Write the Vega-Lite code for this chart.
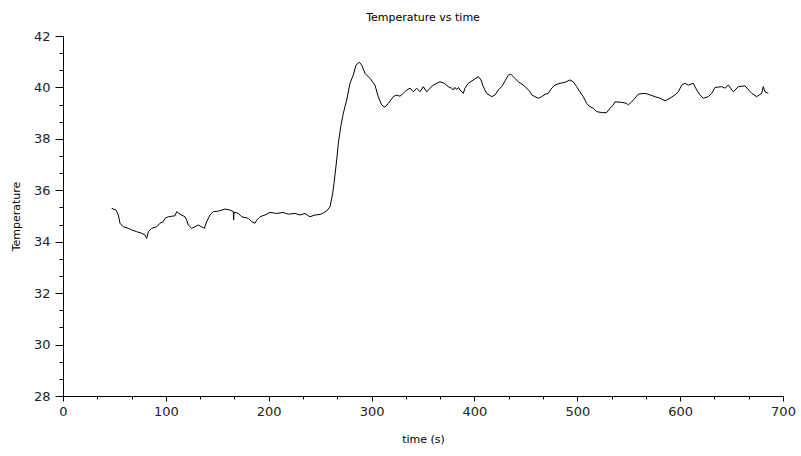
{
  "$schema": "https://vega.github.io/schema/vega-lite/v6.json",
  "width": 720,
  "height": 360,
  "autosize": {"type": "none"},
  "padding": {"left": 63, "top": 36, "right": 18, "bottom": 60},
  "background": "white",
  "title": {"text": "Temperature vs time", "fontSize": 11, "font": "DejaVu Sans", "fontWeight": "normal", "color": "#000", "anchor": "middle", "offset": 7},
  "config": {
    "view": {"stroke": null},
    "axis": {"grid": false, "domainColor": "#000", "tickColor": "#000", "labelColor": "#222", "titleColor": "#000", "labelFont": "DejaVu Sans", "titleFont": "DejaVu Sans", "labelFontSize": 13, "titleFontSize": 11, "titleFontWeight": "normal", "domainWidth": 1, "tickWidth": 1}
  },
  "data": {"values": [
    {"t": 47.3, "temp": 35.30}, {"t": 51.5, "temp": 35.23}, {"t": 53.8, "temp": 35.04}, {"t": 55.4, "temp": 34.72},
    {"t": 58.6, "temp": 34.58}, {"t": 63.5, "temp": 34.52}, {"t": 66.8, "temp": 34.46}, {"t": 71.6, "temp": 34.39},
    {"t": 76.5, "temp": 34.33}, {"t": 79.7, "temp": 34.26}, {"t": 81.4, "temp": 34.13}, {"t": 83.0, "temp": 34.39},
    {"t": 86.2, "temp": 34.52}, {"t": 91.1, "temp": 34.58}, {"t": 94.3, "temp": 34.72}, {"t": 97.5, "temp": 34.78},
    {"t": 99.2, "temp": 34.91}, {"t": 102.4, "temp": 34.97}, {"t": 108.9, "temp": 35.01}, {"t": 110.5, "temp": 35.17},
    {"t": 113.7, "temp": 35.07}, {"t": 118.6, "temp": 34.97}, {"t": 120.3, "temp": 34.84}, {"t": 121.8, "temp": 34.65},
    {"t": 125.1, "temp": 34.52}, {"t": 128.3, "temp": 34.58}, {"t": 131.5, "temp": 34.65}, {"t": 134.8, "temp": 34.58},
    {"t": 137.4, "temp": 34.52}, {"t": 139.7, "temp": 34.78}, {"t": 142.9, "temp": 35.04}, {"t": 146.1, "temp": 35.17},
    {"t": 151.0, "temp": 35.19}, {"t": 157.5, "temp": 35.27}, {"t": 162.4, "temp": 35.23}, {"t": 165.6, "temp": 35.17},
    {"t": 165.9, "temp": 34.84}, {"t": 166.3, "temp": 35.15}, {"t": 170.4, "temp": 35.10}, {"t": 173.7, "temp": 34.97},
    {"t": 180.2, "temp": 34.91}, {"t": 183.5, "temp": 34.78}, {"t": 186.7, "temp": 34.72}, {"t": 188.3, "temp": 34.84},
    {"t": 191.5, "temp": 34.97}, {"t": 196.4, "temp": 35.04}, {"t": 201.2, "temp": 35.14}, {"t": 207.8, "temp": 35.10},
    {"t": 214.2, "temp": 35.14}, {"t": 219.0, "temp": 35.07}, {"t": 225.6, "temp": 35.10}, {"t": 230.4, "temp": 35.04},
    {"t": 235.3, "temp": 35.10}, {"t": 240.1, "temp": 34.97}, {"t": 245.0, "temp": 35.04}, {"t": 249.9, "temp": 35.06},
    {"t": 253.1, "temp": 35.12}, {"t": 256.4, "temp": 35.20}, {"t": 259.6, "temp": 35.36}, {"t": 262.2, "temp": 35.88},
    {"t": 263.5, "temp": 36.27}, {"t": 266.1, "temp": 37.18}, {"t": 267.7, "temp": 37.83}, {"t": 270.0, "temp": 38.47},
    {"t": 272.5, "temp": 38.99}, {"t": 275.8, "temp": 39.51}, {"t": 279.0, "temp": 40.16}, {"t": 282.2, "temp": 40.48},
    {"t": 284.9, "temp": 40.87}, {"t": 288.1, "temp": 40.98}, {"t": 290.4, "temp": 40.87}, {"t": 293.6, "temp": 40.55},
    {"t": 298.5, "temp": 40.35}, {"t": 303.3, "temp": 40.09}, {"t": 306.5, "temp": 39.64}, {"t": 309.8, "temp": 39.32},
    {"t": 313.0, "temp": 39.23}, {"t": 316.3, "temp": 39.38}, {"t": 321.1, "temp": 39.64}, {"t": 324.0, "temp": 39.70},
    {"t": 327.6, "temp": 39.66}, {"t": 330.9, "temp": 39.77}, {"t": 334.1, "temp": 39.90}, {"t": 337.4, "temp": 39.97},
    {"t": 340.6, "temp": 39.83}, {"t": 343.9, "temp": 39.97}, {"t": 347.1, "temp": 39.83}, {"t": 350.3, "temp": 40.03},
    {"t": 353.6, "temp": 39.83}, {"t": 356.8, "temp": 39.97}, {"t": 360.0, "temp": 40.09}, {"t": 363.3, "temp": 40.16},
    {"t": 366.5, "temp": 40.22}, {"t": 370.7, "temp": 40.16}, {"t": 374.6, "temp": 40.03}, {"t": 377.9, "temp": 39.97},
    {"t": 379.5, "temp": 39.90}, {"t": 381.0, "temp": 40.00}, {"t": 382.8, "temp": 39.92}, {"t": 384.5, "temp": 40.00},
    {"t": 386.0, "temp": 39.90}, {"t": 389.2, "temp": 39.77}, {"t": 390.8, "temp": 39.97}, {"t": 394.0, "temp": 40.16},
    {"t": 398.9, "temp": 40.29}, {"t": 403.8, "temp": 40.42}, {"t": 406.4, "temp": 40.29}, {"t": 408.6, "temp": 40.03},
    {"t": 411.9, "temp": 39.77}, {"t": 416.8, "temp": 39.64}, {"t": 420.0, "temp": 39.71}, {"t": 423.2, "temp": 39.90},
    {"t": 426.5, "temp": 40.03}, {"t": 429.7, "temp": 40.25}, {"t": 433.0, "temp": 40.48}, {"t": 435.6, "temp": 40.51},
    {"t": 439.4, "temp": 40.35}, {"t": 442.7, "temp": 40.22}, {"t": 447.5, "temp": 40.09}, {"t": 450.8, "temp": 39.97},
    {"t": 454.0, "temp": 39.83}, {"t": 455.7, "temp": 39.71}, {"t": 458.9, "temp": 39.64}, {"t": 462.1, "temp": 39.58},
    {"t": 465.4, "temp": 39.64}, {"t": 468.6, "temp": 39.73}, {"t": 471.8, "temp": 39.77}, {"t": 475.1, "temp": 39.97},
    {"t": 478.3, "temp": 40.09}, {"t": 483.2, "temp": 40.16}, {"t": 488.0, "temp": 40.20}, {"t": 492.9, "temp": 40.29},
    {"t": 496.1, "temp": 40.22}, {"t": 499.4, "temp": 40.03}, {"t": 502.6, "temp": 39.83}, {"t": 505.8, "temp": 39.64},
    {"t": 509.1, "temp": 39.38}, {"t": 512.3, "temp": 39.25}, {"t": 515.6, "temp": 39.19}, {"t": 518.8, "temp": 39.06},
    {"t": 523.7, "temp": 39.02}, {"t": 528.5, "temp": 39.02}, {"t": 531.8, "temp": 39.19}, {"t": 535.0, "temp": 39.32},
    {"t": 536.7, "temp": 39.44}, {"t": 543.2, "temp": 39.42}, {"t": 548.0, "temp": 39.38}, {"t": 549.6, "temp": 39.32},
    {"t": 552.9, "temp": 39.44}, {"t": 556.1, "temp": 39.58}, {"t": 559.3, "temp": 39.74}, {"t": 565.8, "temp": 39.77},
    {"t": 570.7, "temp": 39.71}, {"t": 575.5, "temp": 39.64}, {"t": 580.4, "temp": 39.58}, {"t": 585.3, "temp": 39.48},
    {"t": 590.1, "temp": 39.58}, {"t": 595.0, "temp": 39.71}, {"t": 598.2, "temp": 39.83}, {"t": 601.5, "temp": 40.09},
    {"t": 604.7, "temp": 40.16}, {"t": 607.9, "temp": 40.09}, {"t": 612.8, "temp": 40.16}, {"t": 616.1, "temp": 39.90},
    {"t": 619.3, "temp": 39.71}, {"t": 622.5, "temp": 39.58}, {"t": 627.4, "temp": 39.64}, {"t": 630.7, "temp": 39.77},
    {"t": 633.9, "temp": 40.00}, {"t": 640.4, "temp": 40.03}, {"t": 643.6, "temp": 39.97}, {"t": 646.8, "temp": 40.09},
    {"t": 651.7, "temp": 39.83}, {"t": 656.5, "temp": 40.03}, {"t": 663.0, "temp": 40.06}, {"t": 669.6, "temp": 39.77},
    {"t": 674.4, "temp": 39.64}, {"t": 679.3, "temp": 39.77}, {"t": 680.8, "temp": 40.03}, {"t": 682.5, "temp": 39.83},
    {"t": 685.7, "temp": 39.77}
  ]},
  "layer": [
    {
      "mark": {"type": "line", "opacity": 0},
      "encoding": {
        "x": {"field": "t", "type": "quantitative", "scale": {"domain": [0, 700], "nice": false, "zero": false},
              "axis": {"orient": "bottom", "values": [33.333, 66.667, 133.333, 166.667, 233.333, 266.667, 333.333, 366.667, 433.333, 466.667, 533.333, 566.667, 633.333, 666.667], "labels": false, "domain": false, "tickSize": 3, "title": null}},
        "y": {"field": "temp", "type": "quantitative", "scale": {"domain": [28, 42], "nice": false, "zero": false},
              "axis": {"orient": "left", "values": [28.667, 29.333, 30.667, 31.333, 32.667, 33.333, 34.667, 35.333, 36.667, 37.333, 38.667, 39.333, 40.667, 41.333], "labels": false, "domain": false, "tickSize": 4, "title": null}}
      }
    },
    {
      "mark": {"type": "line", "color": "#000", "strokeWidth": 1, "interpolate": "linear"},
      "encoding": {
        "x": {"field": "t", "type": "quantitative", "scale": {"domain": [0, 700], "nice": false, "zero": false},
              "axis": {"orient": "bottom", "values": [0, 100, 200, 300, 400, 500, 600, 700], "tickSize": 5, "labelPadding": 4, "title": "time (s)", "titlePadding": 15, "labelFlush": false}},
        "y": {"field": "temp", "type": "quantitative", "scale": {"domain": [28, 42], "nice": false, "zero": false},
              "axis": {"orient": "left", "values": [28, 30, 32, 34, 36, 38, 40, 42], "tickSize": 8, "labelPadding": 5, "title": "Temperature", "titlePadding": 12, "labelFlush": false}}
      }
    }
  ],
  "resolve": {"axis": {"x": "independent", "y": "independent"}}
}
